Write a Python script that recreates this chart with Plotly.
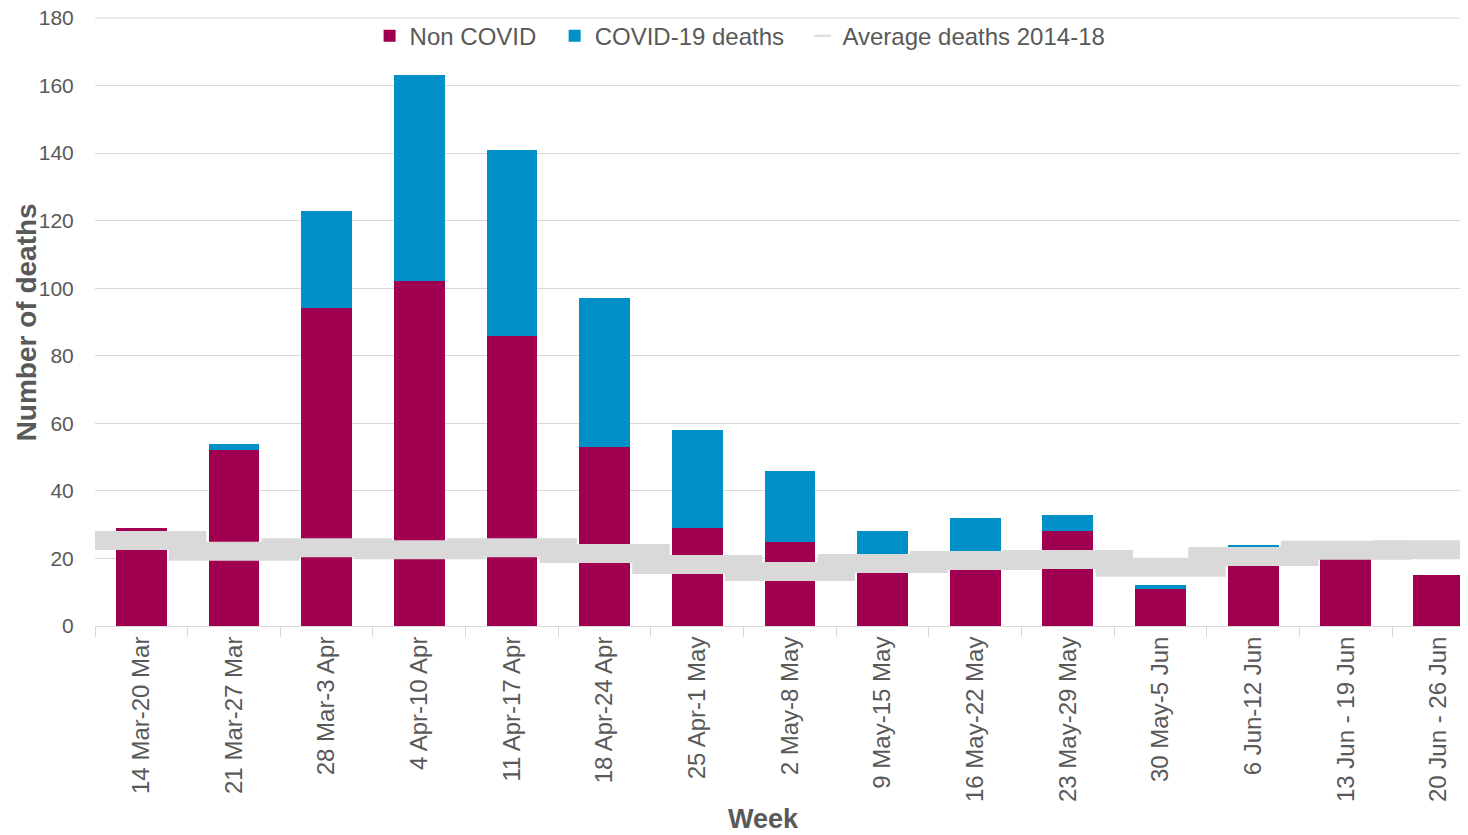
import plotly.graph_objects as go

weeks = ["14 Mar-20 Mar", "21 Mar-27 Mar", "28 Mar-3 Apr", "4 Apr-10 Apr", "11 Apr-17 Apr",
         "18 Apr-24 Apr", "25 Apr-1 May", "2 May-8 May", "9 May-15 May", "16 May-22 May",
         "23 May-29 May", "30 May-5 Jun", "6 Jun-12 Jun", "13 Jun - 19 Jun", "20 Jun - 26 Jun"]
non_covid = [29, 52, 94, 102, 86, 53, 29, 25, 21, 20, 28, 11, 23, 20, 15]
covid = [0, 2, 29, 61, 55, 44, 29, 21, 7, 12, 5, 1, 1, 0, 0]
average = [25.3, 22.1, 23.2, 22.6, 23.2, 21.5, 18.2, 16.1, 18.5, 19.4, 19.7, 17.4, 20.6, 22.4, 22.6]

FONT = "Liberation Sans, Arial, sans-serif"
GREY = "#595959"
NB = "\u00a0"

fig = go.Figure()
fig.add_trace(go.Bar(x=weeks, y=non_covid, name="Non COVID" + NB * 2, marker_color="#A0004F",
                     marker_line_width=0))
fig.add_trace(go.Bar(x=weeks, y=covid, name="COVID-19 deaths" + NB * 2, marker_color="#0090C8",
                     marker_line_width=0))
fig.add_trace(go.Scatter(x=weeks, y=average, name="Average deaths 2014-18", mode="markers",
                         marker=dict(symbol="line-ew", size=93, color="#D9D9D9",
                                     line=dict(color="#D9D9D9", width=19))))

fig.update_layout(
    barmode="stack", bargap=0.45,
    width=1460, height=827,
    margin=dict(l=87, r=0, t=10, b=209),
    plot_bgcolor="white", paper_bgcolor="white",
    font=dict(family=FONT, color=GREY, size=20),
    legend=dict(orientation="h", x=0.2, y=0.97, xanchor="left", yanchor="middle",
                font=dict(size=24, color=GREY), itemsizing="constant",
                bgcolor="rgba(0,0,0,0)", traceorder="normal", itemwidth=30),
    showlegend=True,
)
fig.update_yaxes(range=[0, 180], dtick=20, showgrid=True, gridcolor="#D9D9D9", gridwidth=1,
                 zeroline=False, showline=False, ticks="outside", ticklen=16,
                 tickcolor="rgba(0,0,0,0)", tickfont=dict(size=21, color=GREY),
                 automargin=False, ticklabeloverflow="allow")
fig.update_xaxes(showline=True, linecolor="#D9D9D9", linewidth=1, tickangle=-90,
                 ticks="outside", ticklen=10, tickcolor="#D9D9D9", tickson="boundaries",
                 tickfont=dict(size=24, color=GREY), showgrid=False,
                 range=[-0.5, 14.317], automargin=False, ticklabeloverflow="allow")

# top gridline (plot border at the axis maximum)
fig.add_shape(type="line", xref="paper", yref="paper", x0=0, x1=1, y0=1, y1=1,
              line=dict(color="#D9D9D9", width=1), layer="below")

fig.add_annotation(text="<b>Number of deaths</b>", xref="paper", yref="paper",
                   x=-0.050, y=0.5, showarrow=False, textangle=-90,
                   font=dict(size=28, color=GREY), xanchor="center", yanchor="middle")
fig.add_annotation(text="<b>Week</b>", xref="paper", yref="paper",
                   x=0.487, y=-0.318, showarrow=False,
                   font=dict(size=27, color=GREY), xanchor="center", yanchor="middle")

fig.write_html("out.html")
